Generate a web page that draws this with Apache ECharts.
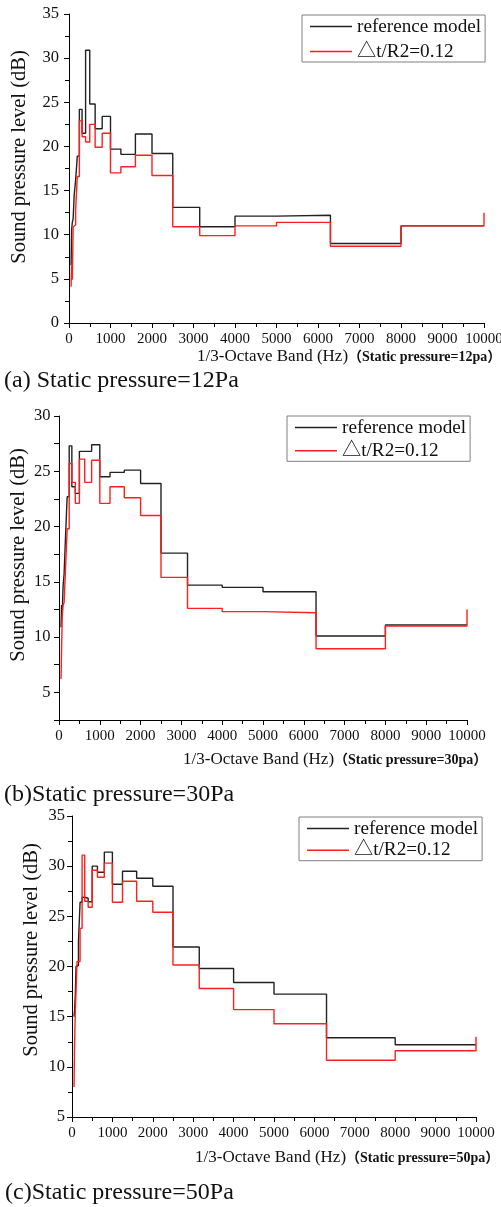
<!DOCTYPE html>
<html>
<head>
<meta charset="utf-8">
<script src="https://cdn.jsdelivr.net/npm/echarts@6.0.0/dist/echarts.min.js"></script>
<style>
  html, body { margin: 0; padding: 0; background: #ffffff; }
  #chart { width: 501px; height: 1207px; }
</style>
</head>
<body>
<div id="chart"></div>
<script>
// 1/3-octave band centre frequencies (Hz)
const bands = [50, 63, 80, 100, 125, 160, 200, 250, 315, 400, 500, 630, 800,
  1000, 1250, 1600, 2000, 2500, 3150, 4000, 5000, 6300, 8000, 10000];

// Sound pressure level (dB) per band — static pressure 12 Pa
const ref12 = [6.5, 10.5, 11.4, 11.8, 14.5, 16.2, 18.9, 24.2, 21.5, 30.9, 24.8, 22.0, 23.4,
  19.7, 19.1, 21.4, 19.2, 13.1, 10.9, 12.1, 12.2, 9.0, 11.0, 11.0];
const dt12 = [4.1, 6.5, 4.9, 10.9, 11.1, 12.8, 16.6, 22.9, 21.1, 20.5, 22.5, 19.9, 21.5,
  17.0, 17.7, 19.0, 16.7, 10.9, 9.9, 11.0, 11.4, 8.7, 11.0, 12.5];

// static pressure 30 Pa
const ref30 = [10.9, 12.9, 12.3, 14.6, 15.7, 19.1, 22.7, 27.3, 23.6, 23.0, 26.8, 26.8, 27.4,
  24.5, 24.9, 25.1, 23.9, 17.6, 14.7, 14.5, 14.1, 10.1, 11.1, 11.1];
const dt30 = [6.2, 8.9, 11.9, 12.9, 13.1, 16.2, 19.8, 25.7, 24.0, 22.1, 26.1, 24.0, 26.0,
  22.1, 23.6, 22.6, 21.0, 15.4, 12.6, 12.3, 12.2, 8.95, 11.0, 12.5];

// static pressure 50 Pa
const ref50 = [15.0, 15.6, 17.0, 20.0, 20.1, 22.5, 26.4, 26.9, 26.8, 26.45, 30.0, 29.4, 31.4,
  28.2, 29.5, 28.8, 28.0, 21.95, 19.8, 18.4, 17.25, 12.9, 12.2, 12.2];
const dt50 = [8.0, 12.0, 15.3, 17.5, 20.5, 20.5, 23.8, 31.1, 26.5, 25.9, 29.6, 28.9, 30.3,
  26.4, 28.5, 26.5, 25.4, 20.15, 17.8, 15.7, 14.3, 10.65, 11.6, 13.0];

// Axis ranges and tick steps
const xRange = [0, 10000], xStep = 1000;
const yRanges = [[0, 35], [2.5, 30], [5, 35]];
const yLabelStep = 5;

const seriesNames = ['reference model', '\u25B3t/R2=0.12'];
const pressures = ['12', '30', '50'];
const captions = ['(a) Static pressure=12Pa', '(b)Static pressure=30Pa', '(c)Static pressure=50Pa'];
const yTitle = 'Sound pressure level (dB)';
const xTitle = '1/3-Octave Band (Hz)';

const panelData = [[ref12, dt12], [ref30, dt30], [ref50, dt50]];

// ---- layout ----
const FONT = "'Liberation Serif', 'Times New Roman', 'Noto Sans CJK SC', serif";
const INK = '#111111';
const COLORS = ['#222222', '#ff1f1f'];

const grids = [
  { left: 69, top: 14, width: 415, height: 309 },
  { left: 59, top: 416, width: 408, height: 304 },
  { left: 72, top: 816, width: 404, height: 301 }
];
const yLabelMargin = [10, 8.5, 7];
const legendPos = [
  { left: 302, top: 15, itemGap: 4 },
  { left: 287, top: 416, itemGap: 2.3 },
  { left: 299, top: 817, itemGap: 0.7 }
];
const xTitlePos = [[197, 357], [183, 760], [195, 1158]];
const captionPos = [[4, 381], [4, 795], [5, 1193]];
const yTitlePos = [[20, 157], [18.5, 555], [31.5, 950]];

const toPairs = (xs, ys) => xs.map((x, i) => [x, ys[i]]);

const option = {
  animation: false,
  backgroundColor: '#ffffff',
  grid: grids.map(g => Object.assign({ outerBoundsMode: 'none', containLabel: false }, g)),
  xAxis: grids.map((g, i) => ({
    type: 'value', gridIndex: i,
    min: xRange[0], max: xRange[1], interval: xStep,
    axisLine: { show: true, onZero: false, lineStyle: { color: '#000', width: 1 } },
    axisTick: { show: true, inside: false, length: 5, lineStyle: { color: '#000' } },
    minorTick: { show: true, splitNumber: 2, length: 4, lineStyle: { color: '#000' } },
    splitLine: { show: false }, minorSplitLine: { show: false },
    axisLabel: { show: true, fontFamily: FONT, fontSize: 15, color: INK, margin: 8.5,
      showMinLabel: true, showMaxLabel: true, formatter: v => String(v) }
  })),
  yAxis: yRanges.map((r, i) => {
    const stepped = r[0] % yLabelStep !== 0;
    return {
      type: 'value', gridIndex: i,
      min: r[0], max: r[1], interval: stepped ? yLabelStep / 2 : yLabelStep,
      axisLine: { show: true, onZero: false, lineStyle: { color: '#000', width: 1 } },
      axisTick: { show: true, inside: false, length: 5, lineStyle: { color: '#000' } },
      minorTick: { show: !stepped, splitNumber: 2, length: 4, lineStyle: { color: '#000' } },
      splitLine: { show: false }, minorSplitLine: { show: false },
      axisLabel: {
        show: true, fontFamily: FONT, fontSize: 16.5, color: INK, margin: yLabelMargin[i],
        formatter: v => (v % yLabelStep === 0 ? String(v) : '')
      }
    };
  }),
  legend: legendPos.map(p => ({
    left: p.left, top: p.top, orient: 'vertical',
    data: seriesNames, icon: 'rect', itemWidth: 42, itemHeight: 1.5, itemGap: p.itemGap,
    padding: [1, 4, 0, 8], borderColor: '#808080', borderWidth: 1,
    selectedMode: false,
    textStyle: { fontFamily: FONT, fontSize: 19.2, color: INK, lineHeight: 21 }
  })),
  series: panelData.flatMap((pair, i) => pair.map((ys, k) => ({
    type: 'line', name: seriesNames[k], xAxisIndex: i, yAxisIndex: i,
    data: toPairs(bands, ys), step: 'end',
    symbol: 'none', showSymbol: false,
    lineStyle: { color: COLORS[k], width: 1.4 },
    itemStyle: { color: COLORS[k] },
    z: 2 + k
  }))),
  graphic: [
    ...xTitlePos.map((p, i) => ({
      type: 'text', x: p[0], y: p[1],
      style: {
        text: '{a|' + xTitle + '}{b|\uFF08Static pressure=' + pressures[i] + 'pa\uFF09}',
        align: 'left', verticalAlign: 'middle', fill: INK,
        rich: {
          a: { fontFamily: FONT, fontSize: 17, fill: INK },
          b: { fontFamily: FONT, fontSize: 14, fontWeight: 'bold', fill: INK }
        }
      }
    })),
    ...captionPos.map((p, i) => ({
      type: 'text', x: p[0], y: p[1],
      style: { text: captions[i], align: 'left', verticalAlign: 'middle',
        fontFamily: FONT, fontSize: 24, fill: INK }
    })),
    ...yTitlePos.map(p => ({
      type: 'text', x: p[0], y: p[1], rotation: Math.PI / 2,
      style: { text: yTitle, align: 'center', verticalAlign: 'middle',
        fontFamily: FONT, fontSize: 20.5, fill: INK }
    }))
  ]
};

const chart = echarts.init(document.getElementById('chart'), null, { renderer: 'canvas' });
chart.setOption(option);
</script>
</body>
</html>
